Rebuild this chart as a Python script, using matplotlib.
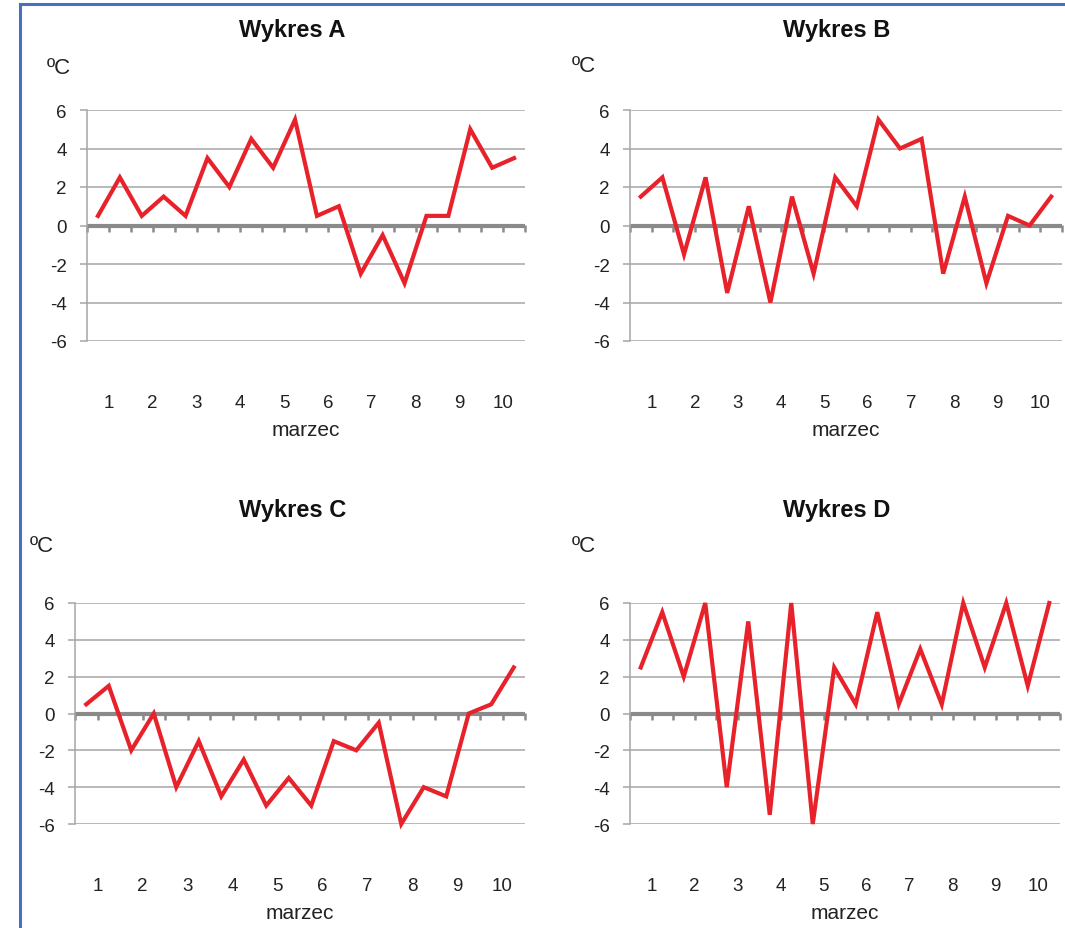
"""Four temperature charts for March (Wykres A-D)"""
import matplotlib
matplotlib.use("Agg")
import matplotlib.pyplot as plt
from matplotlib.lines import Line2D

plt.rcParams['font.family'] = ['Liberation Sans', 'DejaVu Sans']

# two readings per day, 1-10 March
days = [str(d) for d in range(1, 11)]
temp_a = [0.5, 2.5, 0.5, 1.5, 0.5, 3.5, 2, 4.5, 3, 5.5,
          0.5, 1, -2.5, -0.5, -3, 0.5, 0.5, 5, 3, 3.5]
temp_b = [1.5, 2.5, -1.5, 2.5, -3.5, 1, -4, 1.5, -2.5, 2.5,
          1, 5.5, 4, 4.5, -2.5, 1.5, -3, 0.5, 0, 1.5]
temp_c = [0.5, 1.5, -2, 0, -4, -1.5, -4.5, -2.5, -5, -3.5,
          -5, -1.5, -2, -0.5, -6, -4, -4.5, 0, 0.5, 2.5]
temp_d = [2.5, 5.5, 2, 6, -4, 5, -5.5, 6, -6, 2.5,
          0.5, 5.5, 0.5, 3.5, 0.5, 6, 2.5, 6, 1.5, 6]
titles = ['Wykres A', 'Wykres B', 'Wykres C', 'Wykres D']
y_ticks = [-6, -4, -2, 0, 2, 4, 6]

W, H = 1065, 929
# axes boxes in pixels: left, top, right, bottom
boxes = [(87, 111, 525, 342), (630, 111, 1062, 342),
         (75, 604, 525, 825), (630, 604, 1060, 825)]
# title and unit label positions in pixels (x, y)
title_pos = [(292, 31), (837, 31), (293, 511), (837, 511)]
unit_pos = [(47, 68), (572, 67), (30, 547), (572, 547)]

fig = plt.figure(figsize=(W / 100, H / 100), dpi=100)

grid_col = '#a6a6a6'
zero_col = '#8a8a8a'
red = '#e8222b'
text_col = '#222222'


def draw_panel(box, values, title, tpos, upos):
    l, t, r, b = box
    ax = fig.add_axes([l / W, 1 - b / H, (r - l) / W, (b - t) / H])
    n = len(values)
    x = list(range(n))
    ax.set_xlim(-0.5, n - 0.5)
    ax.set_ylim(-6, 6)

    # horizontal grid
    ax.set_yticks(y_ticks)
    ax.set_yticklabels([str(v) for v in y_ticks], fontsize=13.5, color=text_col)
    ax.yaxis.grid(True, color=grid_col, linewidth=1.1)
    ax.tick_params(axis='y', length=5, color=grid_col, width=1.1, pad=9.5)
    ax.set_axisbelow(True)
    for s in ['top', 'right', 'bottom']:
        ax.spines[s].set_visible(False)
    ax.spines['left'].set_color(grid_col)
    ax.spines['left'].set_linewidth(1.1)

    # day labels below the plot area
    ax.set_xticks([2 * i + 0.5 for i in range(len(days))])
    ax.set_xticklabels(days, fontsize=13.5, color=text_col)
    ax.tick_params(axis='x', length=0, pad=38.5)
    ax.set_xlabel('marzec', fontsize=15, color=text_col, labelpad=6)

    # zero axis with category tick marks
    ax.axhline(0, color=zero_col, linewidth=3, zorder=2)
    sec = ax.secondary_xaxis(0.5)
    sec.set_xticks([i - 0.5 for i in range(n + 1)])
    sec.set_xticklabels([])
    sec.tick_params(axis='x', length=5, width=1.8, color=zero_col, direction='in')
    sec.spines['bottom'].set_visible(False)
    sec.spines['top'].set_visible(False)

    ax.plot(x, values, color=red, linewidth=3, clip_on=False, zorder=5,
            solid_joinstyle='miter')

    fig.text(tpos[0] / W, 1 - tpos[1] / H, title, ha='center', va='center',
             fontsize=17, fontweight='bold', color='#111111')
    fig.text(upos[0] / W, 1 - upos[1] / H, 'ºC', ha='left', va='center',
             fontsize=16, color=text_col)
    return ax


for box, vals, title, tp, up in zip(boxes, [temp_a, temp_b, temp_c, temp_d],
                                    titles, title_pos, unit_pos):
    draw_panel(box, vals, title, tp, up)

# blue frame on the left and top
blue = '#4a6fc0'
fig.add_artist(Line2D([20 / W, 20 / W], [0, 1 - 5 / H], color=blue, linewidth=2.2))
fig.add_artist(Line2D([20 / W, 1], [1 - 5 / H, 1 - 5 / H], color=blue, linewidth=2.2))

fig.savefig('out.png', dpi=100, facecolor='white')
